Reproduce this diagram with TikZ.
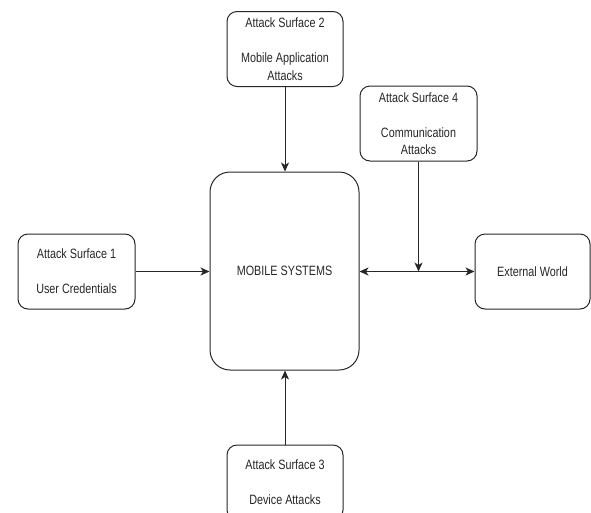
\documentclass[tikz,border=0pt]{standalone}
\usepackage{fontspec}
\setmainfont{Liberation Sans}[FakeStretch=0.8]
\usetikzlibrary{arrows.meta}
\begin{document}
\begin{tikzpicture}[x=1pt,y=-1pt,
  box/.style={draw=black!85, line width=1pt, rounded corners=10pt, minimum width=116pt,
    minimum height=75pt, align=center, inner sep=0pt, text=black!85,
    font=\fontsize{13.5}{17.5}\selectfont},
  tip/.tip={Stealth[length=9pt,width=8pt,inset=2.5pt]},
  conn/.style={draw=black!85, line width=1pt, -tip},
  dconn/.style={draw=black!85, line width=1pt, tip-tip}]
\useasboundingbox (0,0) rectangle (591,512);
\node[box] (as2) at (285,49) {Attack Surface 2\\[17.5pt]Mobile Application\\Attacks};
\node[box, minimum width=117pt] (as4) at (418.5,123.5) {Attack Surface 4\\[17.5pt]Communication\\Attacks};
\node[box, minimum width=149pt, minimum height=198pt, rounded corners=20pt] (mob) at (284.5,271) {MOBILE SYSTEMS};
\node[box, minimum width=117pt] (as1) at (76.5,271.5) {Attack Surface 1\\[17.5pt]User Credentials};
\node[box, minimum width=115pt] (ew) at (532.5,271.5) {External World};
\node[box] (as3) at (285,482.5) {Attack Surface 3\\[17.5pt]Device Attacks};
\draw[conn] (as2.south) -- (as2.south |- mob.north);
\draw[conn] (as1.east) -- (as1.east -| mob.west);
\draw[conn] (as3.north) -- (as3.north |- mob.south);
\draw[dconn] (mob.east |- ew.west) -- (ew.west);
\coordinate (j) at (as4.south |- ew.west);
\draw[conn] (as4.south) -- (j);
\end{tikzpicture}
\end{document}
